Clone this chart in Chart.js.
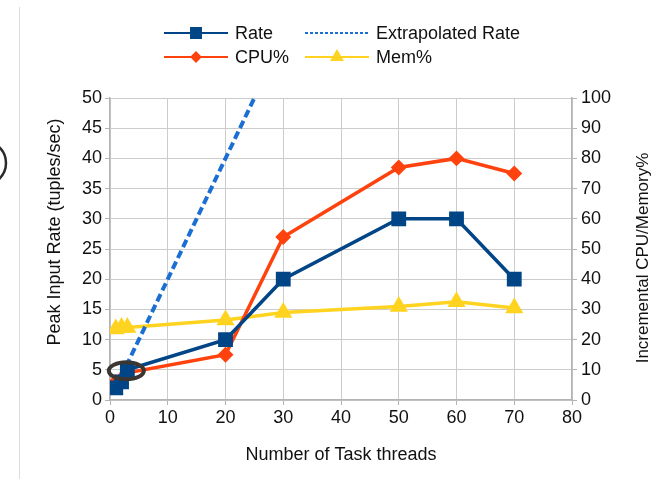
<!DOCTYPE html>
<html>
<head>
<meta charset="utf-8">
<script src="https://cdn.jsdelivr.net/npm/chart.js@4.4.1/dist/chart.umd.min.js"></script>
<style>
    html, body { margin: 0; padding: 0; background: #fff; }
    #wrap { width: 660px; height: 479px; position: relative; }
</style>
</head>
<body>
<div id="wrap"><canvas id="chart"></canvas></div>
<script>
    // Data
    const threads = [1, 2, 3, 20, 30, 50, 60, 70];
    const rate = [2, 3, 5, 10, 20, 30, 30, 20];
    const cpu = [6, 7, 9, 15, 54, 77, 80, 75];
    const mem = [23.5, 24, 24, 26.5, 29, 31, 32.5, 30.5];

    const extThreads = [1, 25];
    const extRate = [2, 50];

    const highlight = { x: 3, y: 5 };

    const xTicks = [0, 10, 20, 30, 40, 50, 60, 70, 80];

    const FONT = '"Liberation Sans", Arial, sans-serif';

    function pairs(xs, ys) {
        return xs.map((x, i) => ({ x: x, y: ys[i] }));
    }

    // Legend drawn by hand: line + marker, two rows
    const legendPlugin = {
        id: 'lineLegend',
        afterDraw(chart) {
            const ctx = chart.ctx;
            const items = [
                { ds: 0, x: 164, y: 33 },
                { ds: 1, x: 305, y: 33 },
                { ds: 2, x: 164, y: 57 },
                { ds: 3, x: 305, y: 57 }
            ];
            ctx.save();
            items.forEach(it => {
                const ds = chart.data.datasets[it.ds];
                ctx.strokeStyle = ds.borderColor;
                ctx.lineWidth = 2;
                ctx.setLineDash(ds.borderDash ? [3, 2] : []);
                ctx.beginPath();
                ctx.moveTo(it.x, it.y);
                ctx.lineTo(it.x + 64, it.y);
                ctx.stroke();
                ctx.setLineDash([]);
                if (ds.pointRadius > 0) {
                    ctx.fillStyle = ds.pointBackgroundColor;
                    ctx.strokeStyle = ds.pointBackgroundColor;
                    Chart.helpers.drawPoint(ctx, {
                        pointStyle: ds.pointStyle,
                        radius: ds.pointRadius - 1,
                        borderWidth: 1,
                        rotation: 0
                    }, it.x + 32, it.y);
                }
                ctx.fillStyle = '#111';
                ctx.font = '18px ' + FONT;
                ctx.textBaseline = 'middle';
                ctx.textAlign = 'left';
                ctx.fillText(ds.label, it.x + 71, it.y + 1);
            });
            ctx.restore();
        }
    };

    // Ellipse around the low-thread points, y titles and slide decorations
    const markPlugin = {
        id: 'marks',
        beforeDraw(chart) {
            const ctx = chart.ctx;
            ctx.save();
            ctx.strokeStyle = '#dcdcdc';
            ctx.lineWidth = 1;
            ctx.beginPath();
            ctx.moveTo(19.5, 7);
            ctx.lineTo(19.5, 479);
            ctx.stroke();
            ctx.strokeStyle = '#2a2a2a';
            ctx.lineWidth = 2.5;
            ctx.beginPath();
            ctx.arc(-16, 163, 22, -Math.PI / 2, Math.PI / 2);
            ctx.stroke();
            ctx.restore();
        },
        afterDraw(chart) {
            const ctx = chart.ctx;
            const titles = [
                { text: 'Peak Input Rate (tuples/sec)', x: 55, y: 232, size: 18 },
                { text: 'Incremental CPU/Memory%', x: 643, y: 258, size: 17 }
            ];
            ctx.save();
            ctx.fillStyle = '#111';
            ctx.textAlign = 'center';
            ctx.textBaseline = 'middle';
            titles.forEach(t => {
                ctx.save();
                ctx.translate(t.x, t.y);
                ctx.rotate(-Math.PI / 2);
                ctx.font = t.size + 'px ' + FONT;
                ctx.fillText(t.text, 0, 0);
                ctx.restore();
            });
            ctx.restore();
        },
        afterDatasetsDraw(chart) {
            const ctx = chart.ctx;
            const cx = chart.scales.x.getPixelForValue(highlight.x);
            const cy = chart.scales.y.getPixelForValue(highlight.y);
            ctx.save();
            ctx.strokeStyle = '#3b3631';
            ctx.lineWidth = 4;
            ctx.beginPath();
            ctx.ellipse(cx - 1, cy + 1, 17.5, 8.5, 0, 0, Math.PI * 2);
            ctx.stroke();
            ctx.restore();
        }
    };

    const gridColor = '#cccccc';
    const borderColor = '#b3b3b3';

    new Chart(document.getElementById('chart'), {
        type: 'line',
        data: {
            datasets: [{
                label: 'Rate',
                data: pairs(threads, rate),
                borderColor: '#004586',
                backgroundColor: '#004586',
                pointBackgroundColor: '#004586',
                pointBorderColor: '#004586',
                borderWidth: 3.5,
                pointStyle: 'rect',
                pointRadius: 8,
                yAxisID: 'y'
            }, {
                label: 'Extrapolated Rate',
                data: pairs(extThreads, extRate),
                borderColor: '#1b6fd3',
                backgroundColor: '#1b6fd3',
                borderWidth: 4,
                borderDash: [8, 4],
                pointRadius: 0,
                yAxisID: 'y'
            }, {
                label: 'CPU%',
                data: pairs(threads, cpu),
                borderColor: '#ff420e',
                backgroundColor: '#ff420e',
                pointBackgroundColor: '#ff420e',
                pointBorderColor: '#ff420e',
                borderWidth: 3.5,
                pointStyle: 'rectRot',
                pointRadius: 5.5,
                yAxisID: 'y1'
            }, {
                label: 'Mem%',
                data: pairs(threads, mem),
                borderColor: '#ffd320',
                backgroundColor: '#ffd320',
                pointBackgroundColor: '#ffd320',
                pointBorderColor: '#ffd320',
                borderWidth: 3.5,
                pointStyle: 'triangle',
                pointRadius: 7,
                yAxisID: 'y1'
            }]
        },
        options: {
            responsive: true,
            maintainAspectRatio: false,
            animation: false,
            devicePixelRatio: 1,
            layout: {
                padding: { left: 20, right: 0, top: 98, bottom: 9 }
            },
            plugins: {
                legend: { display: false },
                tooltip: { enabled: false }
            },
            elements: {
                line: { tension: 0 }
            },
            scales: {
                x: {
                    type: 'linear',
                    min: 0,
                    max: 80,
                    afterBuildTicks: scale => { scale.ticks = xTicks.map(v => ({ value: v })); },
                    afterFit: scale => { scale.height = 70; },
                    ticks: {
                        color: '#111',
                        font: { family: FONT, size: 18 },
                        padding: 2
                    },
                    grid: { color: gridColor, tickLength: 5, tickColor: borderColor },
                    border: { color: borderColor, width: 1.5 },
                    title: {
                        display: true,
                        text: 'Number of Task threads',
                        color: '#111',
                        font: { family: FONT, size: 18 }
                    }
                },
                y: {
                    position: 'left',
                    min: 0,
                    max: 50,
                    afterFit: scale => { scale.width = 90; },
                    ticks: {
                        stepSize: 5,
                        color: '#111',
                        font: { family: FONT, size: 18 },
                        padding: 3
                    },
                    grid: { color: gridColor, tickLength: 5, tickColor: borderColor },
                    border: { color: borderColor, width: 1.5 }
                },
                y1: {
                    position: 'right',
                    min: 0,
                    max: 100,
                    afterFit: scale => { scale.width = 88; },
                    ticks: {
                        stepSize: 10,
                        color: '#111',
                        font: { family: FONT, size: 18 },
                        padding: 4
                    },
                    grid: { drawOnChartArea: false, tickLength: 5, tickColor: borderColor },
                    border: { color: borderColor, width: 1.5 }
                }
            }
        },
        plugins: [legendPlugin, markPlugin]
    });
</script>
</body>
</html>
